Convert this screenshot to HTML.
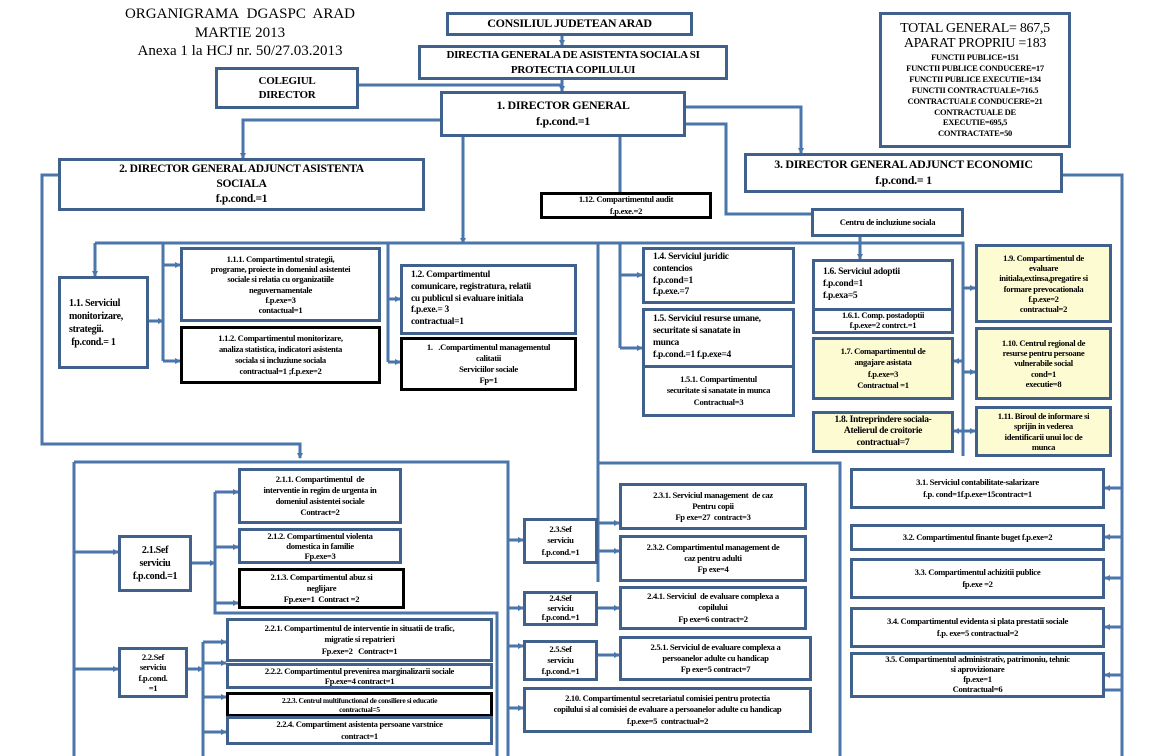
<!DOCTYPE html>
<html><head><meta charset="utf-8">
<style>
body{margin:0;width:1162px;height:756px;overflow:hidden;background:#fff;font-family:"Liberation Serif",serif;position:relative}
.b{position:absolute;box-sizing:border-box;border:3px solid #40618c;background:#fff;display:flex;flex-direction:column;align-items:center;justify-content:center;text-align:center;font-weight:bold;font-size:8.6px;line-height:1.3;letter-spacing:-0.3px;color:#000;padding:0 3px;overflow:hidden}
.k{border-color:#000}
.y{background:#fdfbd2}
.l{align-items:flex-start;text-align:left;padding-left:8px}
.t{position:absolute;text-align:center;font-size:15px;line-height:18.5px;color:#000}
svg{position:absolute;left:0;top:0}
</style></head><body>
<svg width="1162" height="756">
<defs><marker id="a" markerWidth="6" markerHeight="6" refX="5" refY="3" orient="auto" markerUnits="userSpaceOnUse"><path d="M0,0 L6,3 L0,6 z" fill="#4a76ab"/></marker></defs>
<g stroke="#4a76ab" stroke-width="3" fill="none">
<path d="M562,35 V45" marker-end="url(#a)"/>
<path d="M562,80 V91" marker-end="url(#a)"/>
<path d="M359,85 H562"/>
<path d="M440,120 H243 V158" marker-end="url(#a)"/>
<path d="M686,107 H801 V153" marker-end="url(#a)"/>
<path d="M686,124 H726 V214 H811"/>
<path d="M620,137 V193"/>
<path d="M463,137 V243" marker-end="url(#a)"/>
<path d="M95,243 H963 V456"/>
<path d="M95,243 V276" marker-end="url(#a)"/>
<path d="M163,243 V361"/>
<path d="M163,265 H180" marker-end="url(#a)"/>
<path d="M163,361 H180" marker-end="url(#a)"/>
<path d="M149,321 H163" marker-end="url(#a)"/>
<path d="M388,243 V362"/>
<path d="M388,299 H400" marker-end="url(#a)"/>
<path d="M388,362 H400" marker-end="url(#a)"/>
<path d="M620,243 V348"/>
<path d="M620,275 H642" marker-end="url(#a)"/>
<path d="M620,348 H642" marker-end="url(#a)"/>
<path d="M598,243 V582"/>
<path d="M860,237 V259" marker-end="url(#a)"/>
<path d="M963,288 H975" marker-end="url(#a)"/>
<path d="M963,372 H975" marker-end="url(#a)"/>
<path d="M963,431 H975" marker-end="url(#a)"/>
<path d="M963,361 H954" marker-end="url(#a)"/>
<path d="M963,431 H954" marker-end="url(#a)"/>
<path d="M1063,175 H1122 V756"/>
<path d="M1122,488 H1105" marker-end="url(#a)"/>
<path d="M1122,537 H1105" marker-end="url(#a)"/>
<path d="M1122,578 H1105" marker-end="url(#a)"/>
<path d="M1122,627 H1105" marker-end="url(#a)"/>
<path d="M1122,675 H1105" marker-end="url(#a)"/>
<path d="M1105,690 H1122"/>
<path d="M58,175 H42 V444 H300 V458" marker-end="url(#a)"/>
<path d="M74,462 H508 V756"/>
<path d="M74,462 V756"/>
<path d="M74,552 H118" marker-end="url(#a)"/>
<path d="M74,669 H118" marker-end="url(#a)"/>
<path d="M192,563 H215" marker-end="url(#a)"/>
<path d="M215,492 V613 H497 V756"/>
<path d="M215,492 H238" marker-end="url(#a)"/>
<path d="M215,547 H238" marker-end="url(#a)"/>
<path d="M215,603 H238" marker-end="url(#a)"/>
<path d="M188,669 H203" marker-end="url(#a)"/>
<path d="M203,642 V756"/>
<path d="M203,642 H226" marker-end="url(#a)"/>
<path d="M203,663 H226" marker-end="url(#a)"/>
<path d="M203,697 H226" marker-end="url(#a)"/>
<path d="M203,732 H226" marker-end="url(#a)"/>
<path d="M508,540 H523" marker-end="url(#a)"/>
<path d="M508,608 H523" marker-end="url(#a)"/>
<path d="M508,646 H523" marker-end="url(#a)"/>
<path d="M508,708 H523" marker-end="url(#a)"/>
<path d="M598,523 H619" marker-end="url(#a)"/>
<path d="M598,551 H619" marker-end="url(#a)"/>
<path d="M598,608 H619" marker-end="url(#a)"/>
<path d="M598,655 H619" marker-end="url(#a)"/>
<path d="M598,463 H840 V756"/>
</g></svg>

<div class="t" style="left:90px;top:5px;width:300px">ORGANIGRAMA&nbsp; DGASPC&nbsp; ARAD<br>MARTIE 2013<br>Anexa 1 la HCJ nr. 50/27.03.2013</div>

<div class="b" style="left:446px;top:12px;width:247px;height:24px;font-size:12px">CONSILIUL JUDETEAN ARAD</div>
<div class="b" style="left:418px;top:45px;width:310px;height:35px;font-size:11px">DIRECTIA GENERALA DE ASISTENTA SOCIALA SI<br>PROTECTIA COPILULUI</div>
<div class="b" style="left:215px;top:67px;width:144px;height:42px;font-size:11px">COLEGIUL<br>DIRECTOR</div>
<div class="b" style="left:440px;top:91px;width:246px;height:46px;font-size:12px">1. DIRECTOR GENERAL<br>f.p.cond.=1</div>
<div class="b" style="left:879px;top:12px;width:192px;height:136px;font-size:8.5px;line-height:1.28"><span style="font-size:14px;font-weight:normal;line-height:1.1">TOTAL GENERAL= 867,5</span><span style="font-size:14px;font-weight:normal;line-height:1.15">APARAT PROPRIU =183</span>FUNCTII PUBLICE=151<br>FUNCTII PUBLICE CONDUCERE=17<br>FUNCTII PUBLICE EXECUTIE=134<br>FUNCTII CONTRACTUALE=716.5<br>CONTRACTUALE CONDUCERE=21<br>CONTRACTUALE DE<br>EXECUTIE=695,5<br>CONTRACTATE=50</div>
<div class="b" style="left:58px;top:158px;width:367px;height:53px;font-size:11.5px">2. DIRECTOR GENERAL ADJUNCT ASISTENTA<br>SOCIALA<br>f.p.cond.=1</div>
<div class="b" style="left:744px;top:153px;width:319px;height:40px;font-size:12px">3. DIRECTOR GENERAL ADJUNCT ECONOMIC<br>f.p.cond.= 1</div>
<div class="b k" style="left:540px;top:192px;width:172px;height:27px">1.12. Compartimentul audit<br>f.p.exe.=2</div>
<div class="b" style="left:811px;top:208px;width:153px;height:29px">Centru de incluziune sociala</div>

<div class="b l" style="left:58px;top:276px;width:91px;height:93px;font-size:10px">1.1. Serviciul<br>monitorizare,<br>strategii.<br>&nbsp;fp.cond.= 1</div>
<div class="b" style="left:180px;top:247px;width:201px;height:75px;line-height:1.2">1.1.1. Compartimentul strategii,<br>programe, proiecte in domeniul asistentei<br>sociale si relatia cu organizatiile<br>neguvernamentale<br>f.p.exe=3<br>contactual=1</div>
<div class="b k" style="left:180px;top:326px;width:201px;height:58px">1.1.2. Compartimentul monitorizare,<br>analiza statistica, indicatori asistenta<br>sociala si incluziune sociala<br>contractual=1 ;f.p.exe=2</div>
<div class="b l" style="left:400px;top:264px;width:177px;height:71px;font-size:9.5px;line-height:1.25">1.2. Compartimentul<br>comunicare, registratura, relatii<br>cu publicul si evaluare initiala<br>f.p.exe.= 3<br>contractual=1</div>
<div class="b k" style="left:400px;top:337px;width:177px;height:54px">1.&nbsp;&nbsp; .Compartimentul managementul<br>calitatii<br>Serviciilor sociale<br>Fp=1</div>
<div class="b l" style="left:642px;top:247px;width:153px;height:57px;font-size:9.5px;line-height:1.25">1.4. Serviciul juridic<br>contencios<br>f.p.cond=1<br>f.p.exe.=7</div>
<div class="b l" style="left:642px;top:308px;width:153px;height:60px;font-size:9.5px;line-height:1.25">1.5. Serviciul resurse umane,<br>securitate si sanatate in<br>munca<br>f.p.cond.=1 f.p.exe=4</div>
<div class="b" style="left:642px;top:365px;width:153px;height:52px">1.5.1. Compartimentul<br>securitate si sanatate in munca<br>Contractual=3</div>
<div class="b l" style="left:812px;top:259px;width:142px;height:52px;font-size:9.5px;line-height:1.25">1.6. Serviciul adoptii<br>f.p.cond=1<br>f.p.exa=5</div>
<div class="b" style="left:812px;top:308px;width:142px;height:26px;line-height:1.15">1.6.1. Comp. postadoptii<br>f.p.exe=2 contrct.=1</div>
<div class="b y" style="left:812px;top:337px;width:142px;height:63px">1.7. Comapartimentul de<br>angajare asistata<br>f.p.exe=3<br>Contractual =1</div>
<div class="b y" style="left:812px;top:411px;width:142px;height:42px;font-size:9.5px;line-height:1.2">1.8. Intreprindere sociala-<br>Atelierul de croitorie<br>contractual=7</div>
<div class="b y" style="left:975px;top:244px;width:137px;height:79px;line-height:1.2">1.9. Compartimentul de<br>evaluare<br>initiala,extinsa,pregatire si<br>formare prevocationala<br>f.p.exe=2<br>contractual=2</div>
<div class="b y" style="left:975px;top:327px;width:137px;height:73px;line-height:1.2">1.10. Centrul regional de<br>resurse pentru persoane<br>vulnerabile social<br>cond=1<br>executie=8</div>
<div class="b y" style="left:975px;top:406px;width:137px;height:51px;line-height:1.2">1.11. Biroul de informare si<br>sprijin in vederea<br>identificarii unui loc de<br>munca</div>

<div class="b" style="left:850px;top:468px;width:255px;height:41px">3.1. Serviciul contabilitate-salarizare<br>f.p. cond=1f.p.exe=15contract=1</div>
<div class="b" style="left:850px;top:524px;width:255px;height:27px">3.2. Compartimentul finante buget f.p.exe=2</div>
<div class="b" style="left:850px;top:558px;width:255px;height:41px">3.3. Compartimentul achizitii publice<br>fp.exe =2</div>
<div class="b" style="left:850px;top:607px;width:255px;height:41px">3.4. Compartimentul evidenta si plata prestatii sociale<br>f.p. exe=5 contractual=2</div>
<div class="b" style="left:850px;top:652px;width:255px;height:46px;line-height:1.15">3.5. Compartimentul administrativ, patrimoniu, tehnic<br>si aprovizionare<br>fp.exe=1<br>Contractual=6</div>

<div class="b" style="left:118px;top:535px;width:74px;height:57px;font-size:10px">2.1.Sef<br>serviciu<br>f.p.cond.=1</div>
<div class="b" style="left:238px;top:468px;width:164px;height:56px">2.1.1. Compartimentul&nbsp; de<br>interventie in regim de urgenta in<br>domeniul asistentei sociale<br>Contract=2</div>
<div class="b" style="left:238px;top:528px;width:164px;height:36px;line-height:1.2">2.1.2. Compartimentul violenta<br>domestica in familie<br>Fp.exe=3</div>
<div class="b k" style="left:238px;top:568px;width:167px;height:41px">2.1.3. Compartimentul abuz si<br>neglijare<br>Fp.exe=1&nbsp; Contract =2</div>
<div class="b" style="left:118px;top:647px;width:70px;height:51px;line-height:1.2">2.2.Sef<br>serviciu<br>f.p.cond.<br>=1</div>
<div class="b" style="left:226px;top:618px;width:267px;height:44px">2.2.1. Compartimentul de interventie in situatii de trafic,<br>migratie si repatrieri<br>Fp.exe=2&nbsp;&nbsp; Contract=1</div>
<div class="b" style="left:226px;top:663px;width:267px;height:26px;line-height:1.2">2.2.2. Compartimentul prevenirea marginalizarii sociale<br>Fp.exe=4 contract=1</div>
<div class="b k" style="left:226px;top:692px;width:267px;height:25px;font-size:7.5px;line-height:1.2">2.2.3. Centrul multifunctional de consiliere si educatie<br>contractual=5</div>
<div class="b" style="left:226px;top:716px;width:267px;height:29px">2.2.4. Compartiment asistenta persoane varstnice<br>contract=1</div>

<div class="b" style="left:523px;top:518px;width:75px;height:46px">2.3.Sef<br>serviciu<br>f.p.cond.=1</div>
<div class="b" style="left:619px;top:483px;width:188px;height:47px">2.3.1. Serviciul management&nbsp; de caz<br>Pentru copii<br>Fp exe=27&nbsp; contract=3</div>
<div class="b" style="left:619px;top:535px;width:188px;height:47px">2.3.2. Compartimentul management de<br>caz pentru adulti<br>Fp exe=4</div>
<div class="b" style="left:523px;top:591px;width:75px;height:35px;line-height:1.15">2.4.Sef<br>serviciu<br>f.p.cond.=1</div>
<div class="b" style="left:619px;top:586px;width:188px;height:44px">2.4.1. Serviciul&nbsp; de evaluare complexa a<br>copilului<br>Fp exe=6 contract=2</div>
<div class="b" style="left:523px;top:640px;width:75px;height:41px">2.5.Sef<br>serviciu<br>f.p.cond.=1</div>
<div class="b" style="left:619px;top:636px;width:193px;height:45px">2.5.1. Serviciul de evaluare complexa a<br>persoanelor adulte cu handicap<br>Fp exe=5 contract=7</div>
<div class="b" style="left:523px;top:687px;width:289px;height:46px">2.10. Compartimentul secretariatul comisiei pentru protectia<br>copilului si al comisiei de evaluare a persoanelor adulte cu handicap<br>f.p.exe=5&nbsp; contractual=2</div>
</body></html>
